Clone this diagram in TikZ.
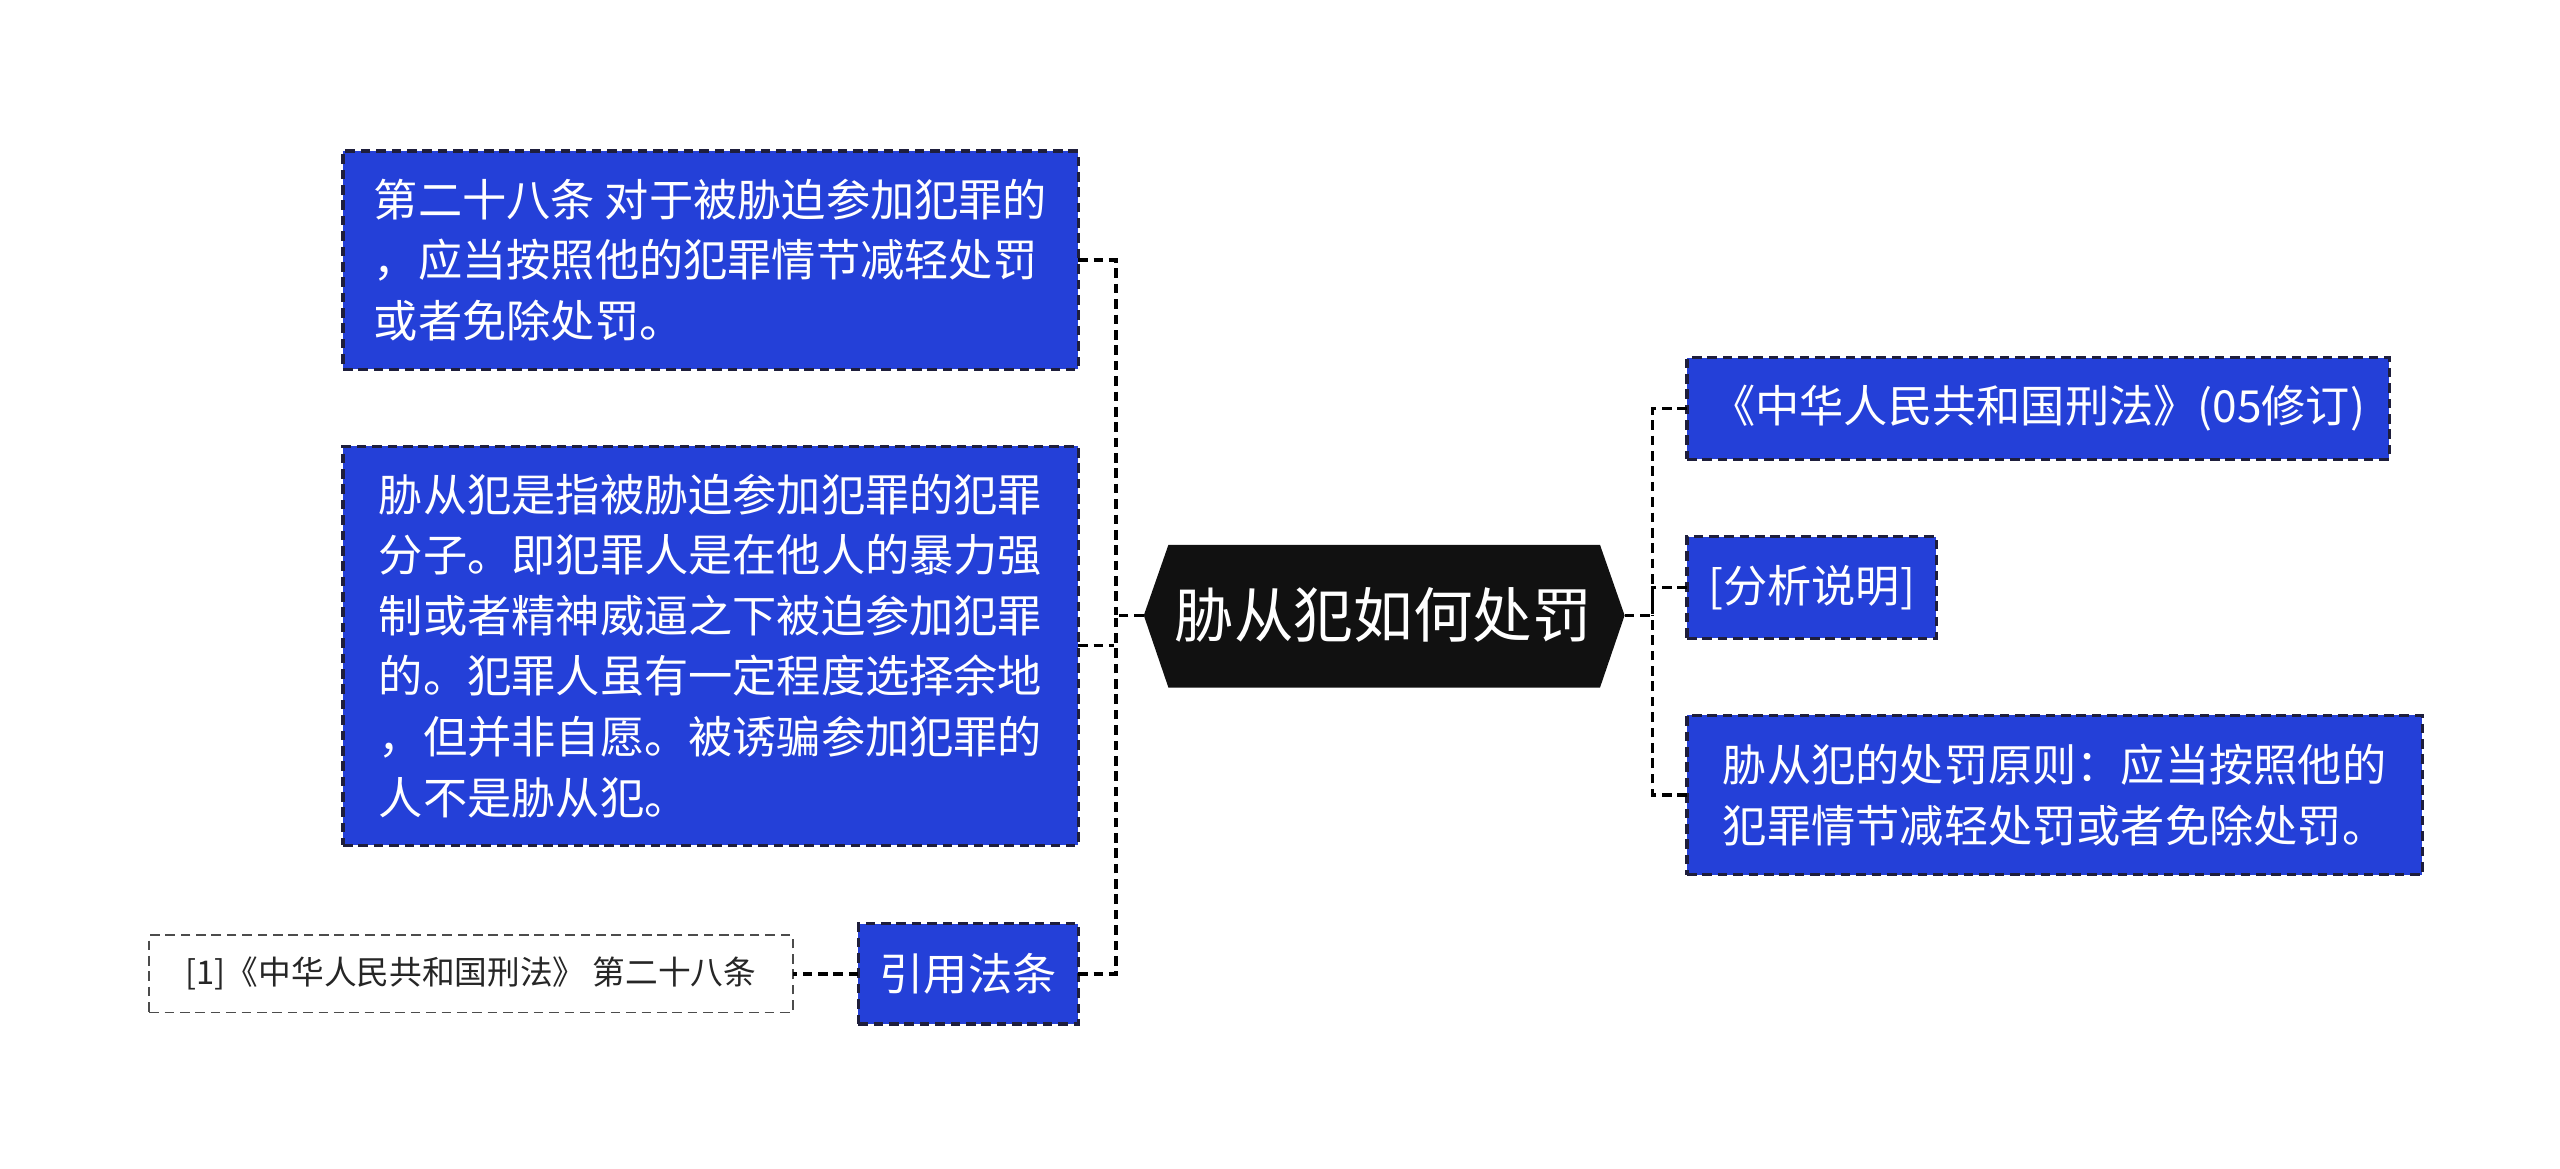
\documentclass[tikz,border=0pt]{standalone}
\usepackage{fontspec}
\setmainfont{Noto Sans CJK SC}
\usetikzlibrary{positioning}
\definecolor{box_blue}{RGB}{36,64,216}
\definecolor{edge_dark}{RGB}{30,30,60}
\definecolor{hex_black}{RGB}{17,17,17}

\begin{document}
\begin{tikzpicture}[x=0.03cm,y=-0.03cm,line width=1.6pt]
    \tikzstyle{topic}=[draw=edge_dark, dash pattern=on 5pt off 3pt, fill=box_blue, text=white, anchor=north west,
                       outer sep=0pt, inner xsep=0.15cm, inner ysep=0cm, align=left, font=\fontsize{23}{31.5}\selectfont]
    \tikzstyle{cite}=[draw=black!70, dash pattern=on 5pt off 3pt, line width=1pt, fill=white, text=black!85, anchor=north west,
                      outer sep=0pt, inner xsep=0.2cm, align=left, font=\fontsize{17}{22}\selectfont]
    \tikzstyle{link}=[draw=black, dash pattern=on 5pt off 3pt, line width=1.8pt]

    \useasboundingbox (0,0) rectangle (1560,712);

    % central topic
    \fill[hex_black] (697,375) -- (712,332) -- (975,332) -- (990,375) -- (975,419) -- (712,419) -- cycle;
    \node[text=white, font=\fontsize{31}{36}\selectfont] (root) at (843,375) {胁从犯如何处罚};
    \coordinate (cl) at (697,375);
    \coordinate (cr) at (990,375);

    % left side
    \node[topic, minimum width=448*0.03cm, minimum height=133*0.03cm] (art) at (209,92)
      {第二十八条 对于被胁迫参加犯罪的\\，应当按照他的犯罪情节减轻处罚\\或者免除处罚。};
    \node[topic, minimum width=448*0.03cm, minimum height=243*0.03cm] (def) at (209,272)
      {胁从犯是指被胁迫参加犯罪的犯罪\\分子。即犯罪人是在他人的暴力强\\制或者精神威逼之下被迫参加犯罪\\的。犯罪人虽有一定程度选择余地\\，但并非自愿。被诱骗参加犯罪的\\人不是胁从犯。};
    \node[topic, minimum width=134*0.03cm, minimum height=61*0.03cm, inner xsep=0cm, align=center] (law) at (523,563)
      {引用法条};
    \node[cite, minimum width=392*0.03cm, minimum height=47*0.03cm] (ref) at (91,570)
      {[1]《中华人民共和国刑法》 第二十八条};

    % right side
    \node[topic, minimum width=428*0.03cm, minimum height=62*0.03cm] (src) at (1028,218)
      {《中华人民共和国刑法》(05修订)};
    \node[topic, minimum width=152*0.03cm, minimum height=62*0.03cm] (ana) at (1028,327)
      {[分析说明]};
    \node[topic, minimum width=448*0.03cm, minimum height=97*0.03cm] (rule) at (1028,436)
      {胁从犯的处罚原则：应当按照他的\\犯罪情节减轻处罚或者免除处罚。};

    % connectors
    \draw[link] (cl) -- (680,375);
    \draw[link] (art.east) -| (680,375);
    \draw[link] (def.east) -- ++(22,0);
    \draw[link] (law.east) -| (680,375);
    \draw[link] (law.west) -- (ref.east);
    \draw[link] (cr) -- (1007,375);
    \draw[link] (src.west) -| (1007,375);
    \draw[link] (ana.west) -| (1007,375);
    \draw[link] (rule.west) -| (1007,375);
\end{tikzpicture}
\end{document}
